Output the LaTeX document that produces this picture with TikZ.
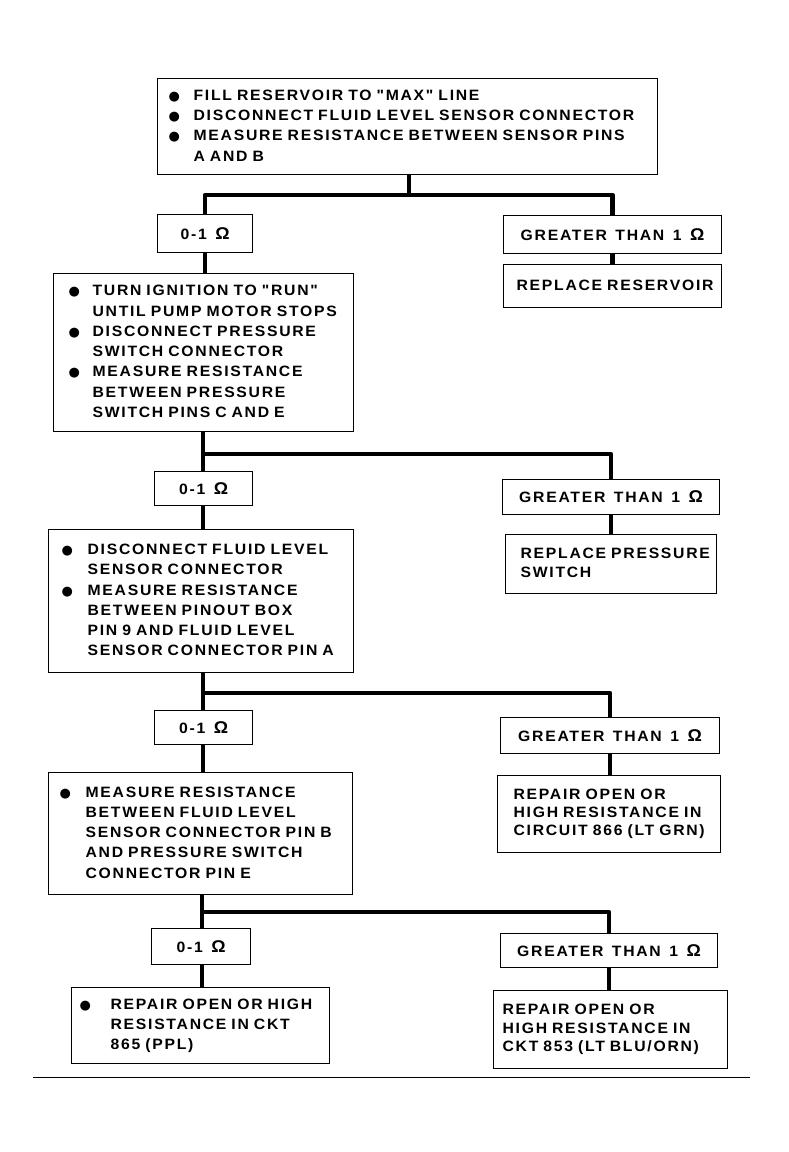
\documentclass[tikz,border=0pt]{standalone}
\usepackage{fontspec}
\setmainfont{Liberation Sans}[FakeStretch=1.05,LetterSpace=11.5,WordSpace=1.4,Ligatures=TeXOff]
\newfontfamily\bulfont{DejaVu Sans}
\setlength\parindent{0pt}
\hyphenpenalty=10000
\newcommand\bul{{\bulfont\fontsize{13}{13}\selectfont ●}}
\newcommand\ohm{{\fontsize{17}{17}\selectfont Ω}}
\begin{document}
\begin{tikzpicture}[x=1pt,y=-1pt,
  every node/.style={font=\fontsize{15}{20.3}\selectfont\bfseries},
  box/.style={draw, line width=1.2pt, anchor=north west, inner ysep=0pt, align=left},
  lbl/.style={draw, line width=1.2pt, anchor=north west, inner sep=0pt, align=center},
  conn/.style={line width=4.5pt, line join=round},
  rule/.style={line width=0.9pt}]
\useasboundingbox (0,0) rectangle (788,1152);

% main step boxes
\node[box, inner xsep=11pt, text width=478pt, minimum width=500pt, minimum height=96pt] (b1) at (157,78)
 {\begin{tabular}{@{}p{25pt}@{}l@{}}
  \bul & FILL RESERVOIR TO "MAX" LINE\\
  \bul & DISCONNECT FLUID LEVEL SENSOR CONNECTOR\\
  \bul & MEASURE RESISTANCE BETWEEN SENSOR PINS\\
       & A AND B
  \end{tabular}};

\node[box, inner xsep=15pt, text width=270pt, minimum width=300pt, minimum height=158pt] (b2) at (53,273)
 {\begin{tabular}{@{}p{24pt}@{}l@{}}
  \bul & TURN IGNITION TO "RUN"\\
       & UNTIL PUMP MOTOR STOPS\\
  \bul & DISCONNECT PRESSURE\\
       & SWITCH CONNECTOR\\
  \bul & MEASURE RESISTANCE\\
       & BETWEEN PRESSURE\\
       & SWITCH PINS C AND E
  \end{tabular}};

\node[box, inner xsep=13pt, text width=279pt, minimum width=305pt, minimum height=143pt] (b3) at (48,529)
 {\begin{tabular}{@{}p{26pt}@{}l@{}}
  \bul & DISCONNECT FLUID LEVEL\\
       & SENSOR CONNECTOR\\
  \bul & MEASURE RESISTANCE\\
       & BETWEEN PINOUT BOX\\
       & PIN 9 AND FLUID LEVEL\\
       & SENSOR CONNECTOR PIN A
  \end{tabular}};

\node[box, inner xsep=11pt, text width=282pt, minimum width=304pt, minimum height=122pt] (b4) at (48,772)
 {\begin{tabular}{@{}p{26pt}@{}l@{}}
  \bul & MEASURE RESISTANCE\\
       & BETWEEN FLUID LEVEL\\
       & SENSOR CONNECTOR PIN B\\
       & AND PRESSURE SWITCH\\
       & CONNECTOR PIN E
  \end{tabular}};

\node[box, inner xsep=8pt, text width=242pt, minimum width=258pt, minimum height=76pt] (b5) at (71,987)
 {\begin{tabular}{@{}p{31pt}@{}l@{}}
  \bul & REPAIR OPEN OR HIGH\\
       & RESISTANCE IN CKT\\
       & 865 (PPL)
  \end{tabular}};

% branch labels
\node[lbl, minimum width=95pt, minimum height=38pt] (ok1) at (157,214) {0-1 \ohm};
\node[lbl, minimum width=98pt, minimum height=34pt] (ok2) at (154,471) {0-1 \ohm};
\node[lbl, minimum width=98pt, minimum height=34pt] (ok3) at (154,710) {0-1 \ohm};
\node[lbl, minimum width=99pt, minimum height=36pt] (ok4) at (151,928) {0-1 \ohm};

\node[lbl, minimum width=218pt, minimum height=38pt] (gt1) at (503,215) {GREATER THAN 1 \ohm};
\node[lbl, minimum width=217pt, minimum height=35pt] (gt2) at (502,479) {GREATER THAN 1 \ohm};
\node[lbl, minimum width=219pt, minimum height=36pt] (gt3) at (500,717) {GREATER THAN 1 \ohm};
\node[lbl, minimum width=217pt, minimum height=34pt] (gt4) at (500,933) {GREATER THAN 1 \ohm};

% result boxes
\node[box, inner xsep=13pt, text width=192pt, minimum width=218pt, minimum height=43pt] (r1) at (503,264)
 {\begin{tabular}{@{}l@{}}REPLACE RESERVOIR\end{tabular}};
\node[box, inner xsep=15pt, text width=181pt, minimum width=211pt, minimum height=59pt,
      font=\fontsize{15}{19}\selectfont\bfseries] (r2) at (505,534)
 {\begin{tabular}{@{}l@{}}REPLACE PRESSURE\\SWITCH\end{tabular}};
\node[box, inner xsep=16pt, text width=191pt, minimum width=223pt, minimum height=77pt,
      font=\fontsize{15}{18}\selectfont\bfseries] (r3) at (497,775)
 {\begin{tabular}{@{}l@{}}REPAIR OPEN OR\\HIGH RESISTANCE IN\\CIRCUIT 866 (LT GRN)\end{tabular}};
\node[box, inner xsep=9pt, text width=216pt, minimum width=234pt, minimum height=78pt,
      font=\fontsize{15}{18.5}\selectfont\bfseries] (r4) at (493,990)
 {\begin{tabular}{@{}l@{}}REPAIR OPEN OR\\HIGH RESISTANCE IN\\CKT 853 (LT BLU/ORN)\end{tabular}};

% junctions
\coordinate (j1) at (409,195);
\coordinate (j2) at (203,454);
\coordinate (j3) at (203,693);
\coordinate (j4) at (202,912);

% connectors level 1
\draw[conn] (b1.south -| j1) -- (j1);
\draw[conn] (ok1.north) |- (j1) -| (gt1.north);
\draw[conn] (ok1.south) -- (ok1.south |- b2.north);
\draw[conn] (gt1.south) -- (gt1.south |- r1.north);
% level 2
\draw[conn] (b2.south -| j2) -- (j2 |- ok2.north);
\draw[conn] (j2) -| (gt2.north);
\draw[conn] (ok2.south -| j2) -- (j2 |- b3.north);
\draw[conn] (gt2.south) -- (gt2.south |- r2.north);
% level 3
\draw[conn] (b3.south -| j3) -- (j3 |- ok3.north);
\draw[conn] (j3) -| (gt3.north);
\draw[conn] (ok3.south -| j3) -- (j3 |- b4.north);
\draw[conn] (gt3.south) -- (gt3.south |- r3.north);
% level 4
\draw[conn] (b4.south -| j4) -- (j4 |- ok4.north);
\draw[conn] (j4) -| (gt4.north);
\draw[conn] (ok4.south -| j4) -- (j4 |- b5.north);
\draw[conn] (gt4.south) -- (gt4.south |- r4.north);

% bottom rule
\coordinate (rl) at (33,1077);
\coordinate (rr) at (750,1077);
\draw[rule] (rl) -- (rr);
\end{tikzpicture}
\end{document}
